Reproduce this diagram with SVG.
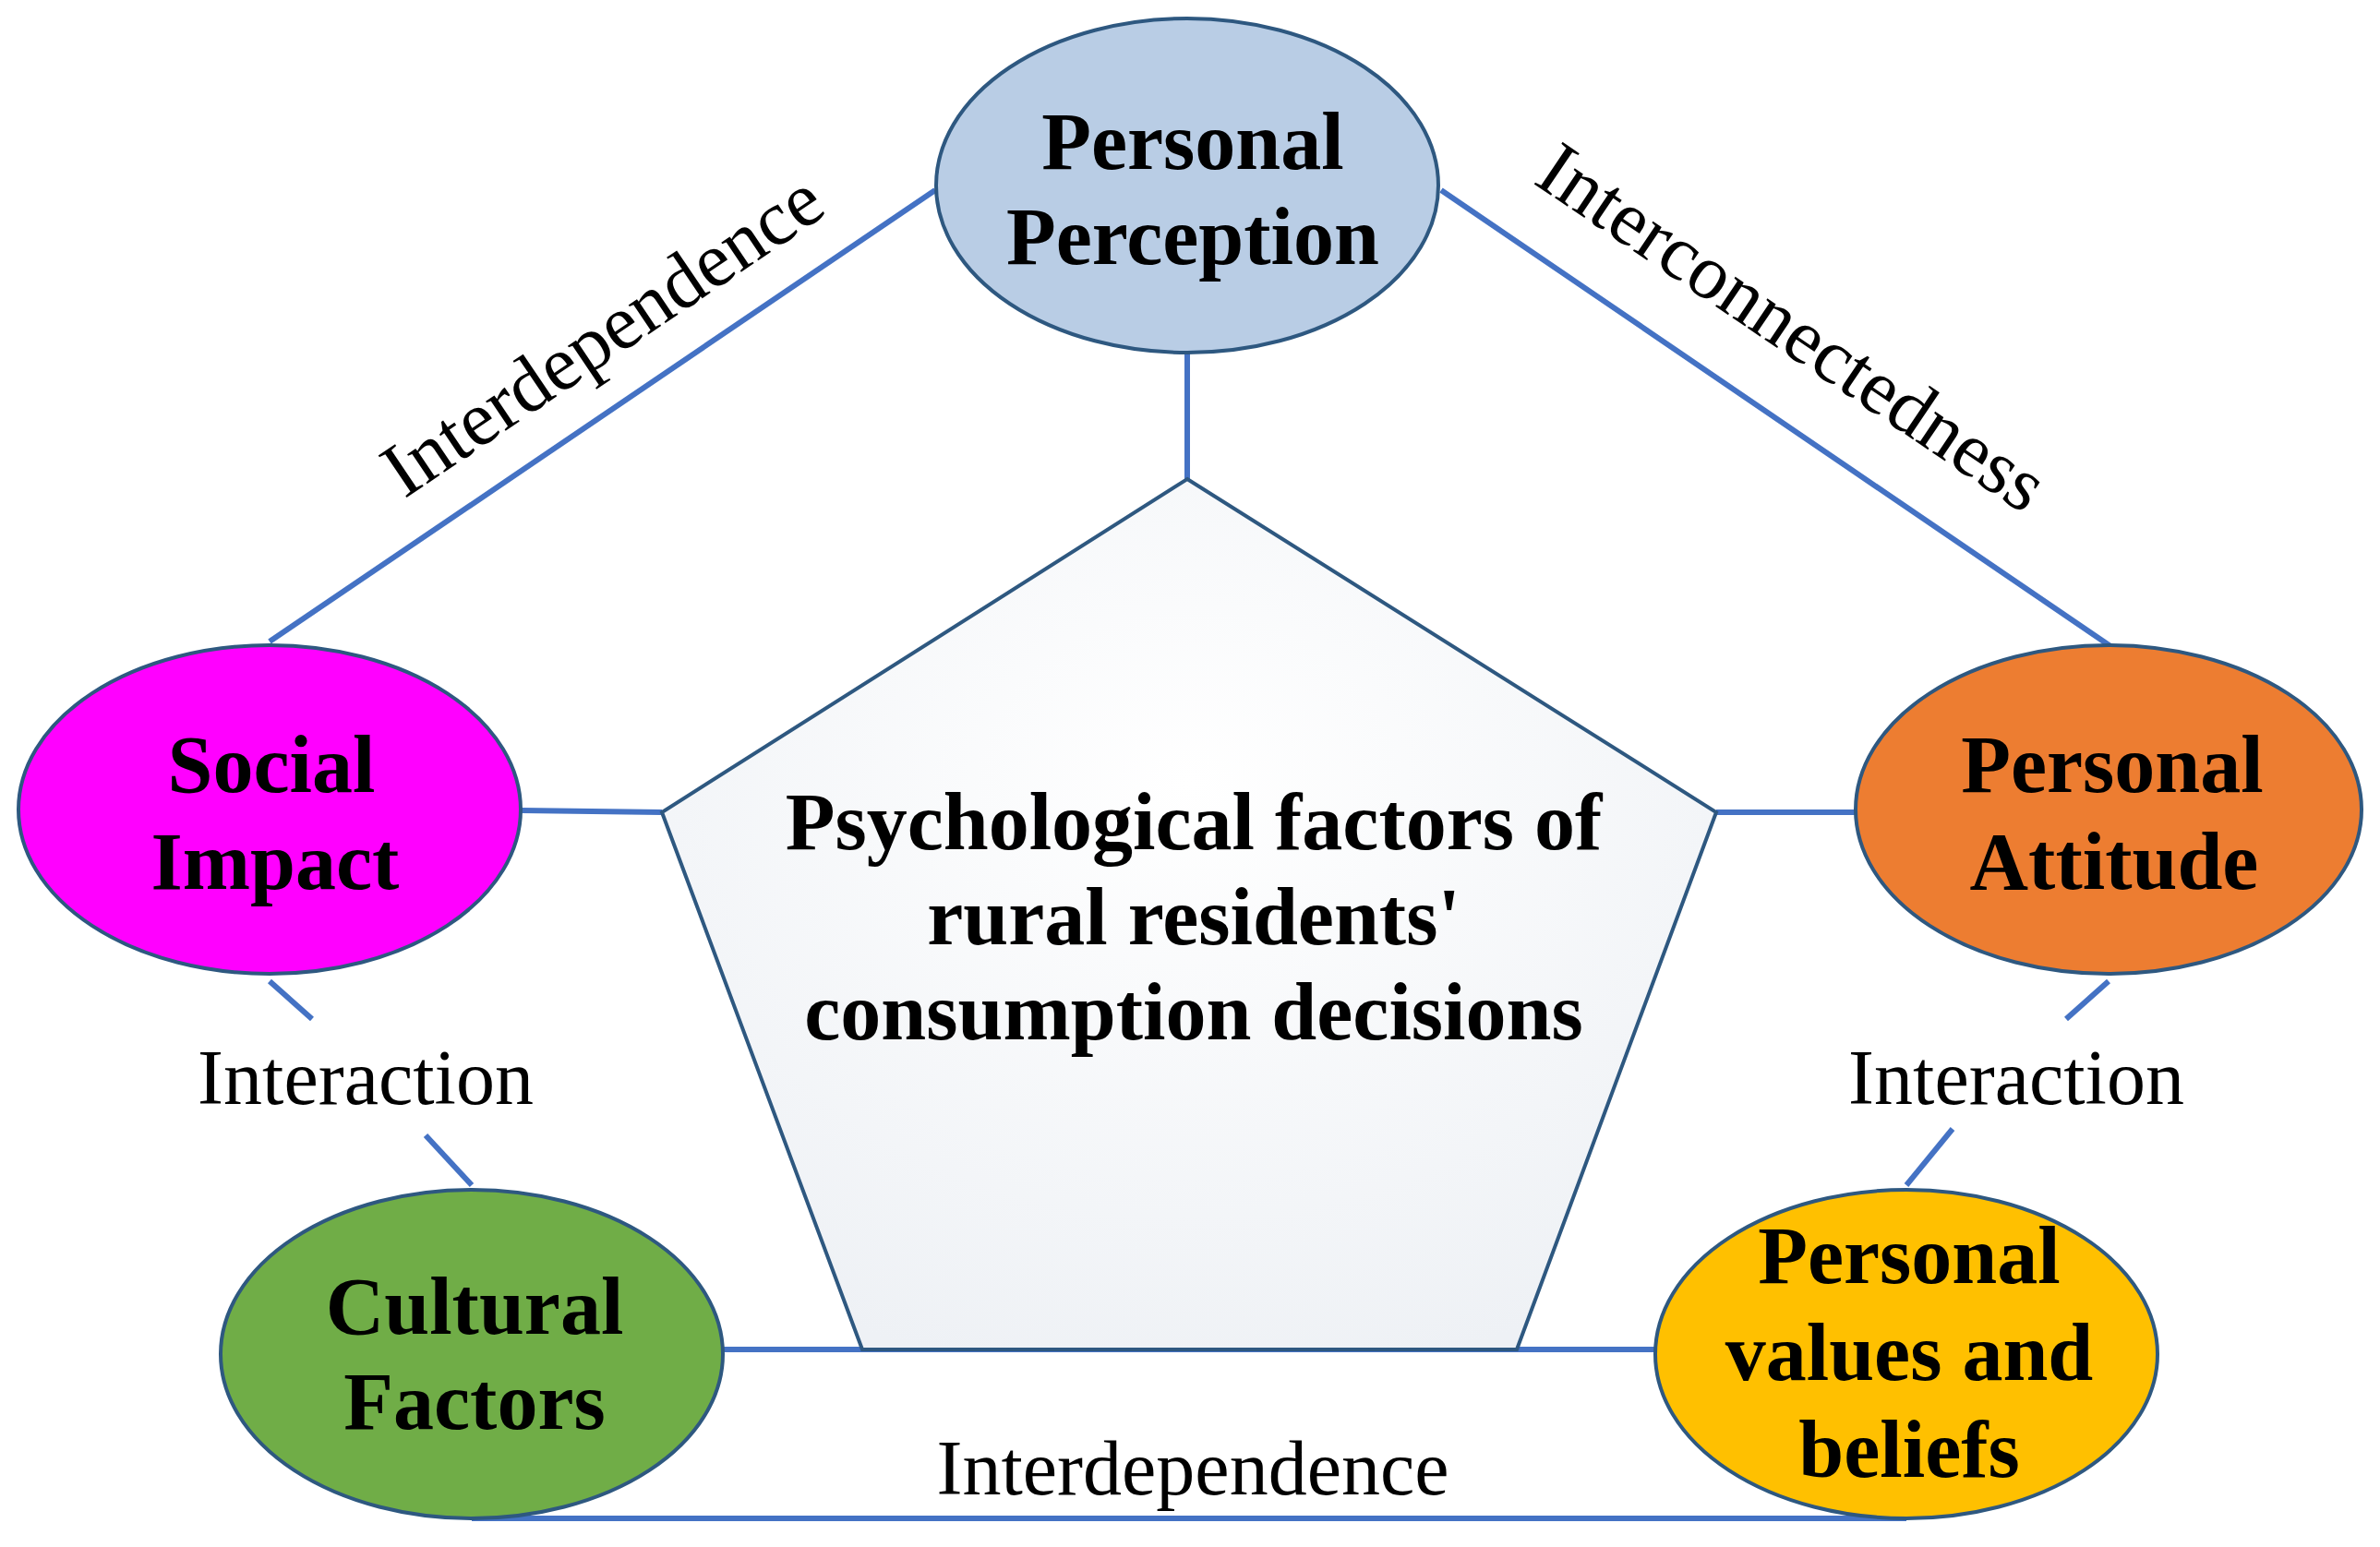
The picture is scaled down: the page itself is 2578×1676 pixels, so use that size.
<svg xmlns="http://www.w3.org/2000/svg" width="2578" height="1676" viewBox="0 0 2578 1676">
<defs>
<radialGradient id="pg" cx="0.5" cy="0.35" r="0.7">
<stop offset="0" stop-color="#ffffff"/><stop offset="1" stop-color="#eef1f5"/>
</radialGradient>
</defs>
<style>
.n{stroke:#2e5880;stroke-width:4}
.t{font-family:"Liberation Serif",serif;font-weight:bold;font-size:88px;fill:#000;text-anchor:middle;dominant-baseline:central}
.l{font-family:"Liberation Serif",serif;font-size:84px;fill:#000;text-anchor:middle;dominant-baseline:central}
.c line{stroke:#4472C4;stroke-width:6}
</style>
<rect width="2578" height="1676" fill="#fff"/>
<g class="c" id="connectors">
<line x1="1013" y1="206" x2="292" y2="695"/>
<line x1="1561" y1="206" x2="2286" y2="700"/>
<line x1="1286" y1="382" x2="1286" y2="519"/>
<line x1="565" y1="878" x2="717" y2="880"/>
<line x1="2011" y1="880" x2="1859" y2="880"/>
<line x1="292" y1="1063" x2="338" y2="1104"/>
<line x1="461" y1="1230" x2="511" y2="1284"/>
<line x1="2284" y1="1063" x2="2238" y2="1104"/>
<line x1="2115" y1="1223" x2="2065" y2="1284"/>
<line x1="783" y1="1462" x2="1793" y2="1462"/>
<line x1="511" y1="1645" x2="2065" y2="1645"/>
</g>
<g id="center">
<polygon points="1286,519 1859,880 1643,1462 934,1462 717,880" fill="url(#pg)" stroke="#2e5880" stroke-width="4"/>
<text class="t" x="1293" y="890">Psychological factors of</text>
<text class="t" x="1293" y="993">rural residents'</text>
<text class="t" x="1293" y="1096">consumption decisions</text>
</g>
<g id="pp"><ellipse class="n" cx="1286" cy="201" rx="272" ry="181" fill="#B9CDE5"/>
<text class="t" x="1292" y="153">Personal</text><text class="t" x="1292" y="256">Perception</text></g>
<g id="si"><ellipse class="n" cx="292" cy="877" rx="272" ry="178" fill="#FF00FF"/>
<text class="t" x="294" y="828">Social</text><text class="t" x="298" y="933">Impact</text></g>
<g id="pa"><ellipse class="n" cx="2284" cy="877" rx="274" ry="178" fill="#ED7D31"/>
<text class="t" x="2288" y="828">Personal</text><text class="t" x="2290" y="933">Attitude</text></g>
<g id="cf"><ellipse class="n" cx="511" cy="1467" rx="272" ry="178" fill="#70AD47"/>
<text class="t" x="514" y="1415">Cultural</text><text class="t" x="514" y="1518">Factors</text></g>
<g id="vb"><ellipse class="n" cx="2065" cy="1467" rx="272" ry="178" fill="#FFC000"/>
<text class="t" x="2068" y="1360">Personal</text><text class="t" x="2068" y="1465">values and</text><text class="t" x="2068" y="1570">beliefs</text></g>
<g id="labels">
<text class="l" transform="translate(652,362) rotate(-34)">Interdependence</text>
<text class="l" transform="translate(1942,354) rotate(34)">Interconnectedness</text>
<text class="l" x="396" y="1167">Interaction</text>
<text class="l" x="2184" y="1167">Interaction</text>
<text class="l" x="1292" y="1590">Interdependence</text>
</g>
</svg>
